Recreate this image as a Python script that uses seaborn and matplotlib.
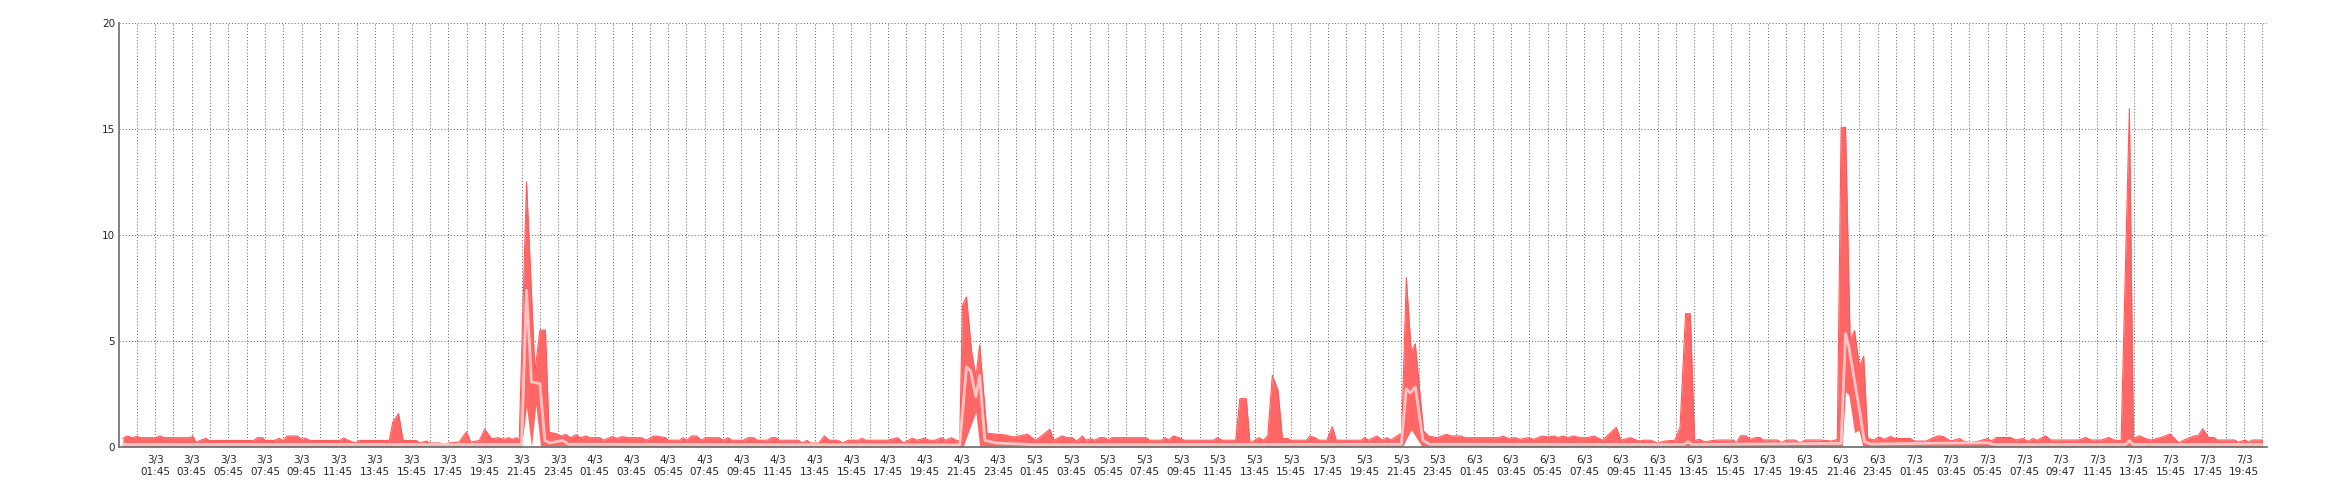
import matplotlib
matplotlib.use("Agg")
import matplotlib.pyplot as plt
import seaborn as sns

# hours since 3/3 00:00 and values
max_hours = [
    0.00, 0.24, 0.47, 0.75, 0.94, 1.78, 2.03, 2.25, 3.70, 3.81, 3.98, 4.51, 4.70, 7.14, 7.33,
    7.61, 7.76, 8.27, 8.51, 8.74, 8.96, 9.49, 9.77, 9.96, 10.19, 11.84, 12.03, 12.31, 12.69, 12.91,
    14.53, 14.72, 15.04, 15.28, 15.98, 16.22, 16.54, 16.78, 17.29, 17.54, 17.76, 18.33, 18.74, 18.98,
    19.45, 19.74, 20.11, 20.49, 20.77, 21.05, 21.24, 21.48, 21.62, 22.02, 22.48, 22.75, 23.05, 23.25,
    23.63, 23.93, 24.15, 24.43, 24.72, 25.00, 25.24, 25.47, 26.03, 26.22, 26.69, 26.97, 27.25, 27.53,
    28.29, 28.57, 28.85, 29.05, 29.62, 29.75, 30.37, 30.56, 30.75, 31.03, 31.31, 31.55, 31.78, 32.53,
    32.76, 33.00, 33.25, 33.85, 34.13, 34.41, 34.60, 35.16, 35.39, 35.63, 35.82, 36.86, 37.05, 37.33,
    37.51, 37.98, 38.27, 38.55, 39.02, 39.26, 39.58, 40.14, 40.33, 40.52, 41.74, 42.27, 42.59, 43.06,
    43.34, 43.72, 44.00, 44.33, 44.65, 44.90, 45.22, 45.45, 45.66, 45.81, 46.03, 46.30, 46.54, 46.75,
    47.15, 47.76, 48.13, 48.60, 48.88, 49.35, 49.82, 50.58, 50.80, 51.24, 51.52, 51.80, 52.04, 52.36,
    52.55, 52.83, 53.02, 53.30, 53.58, 53.77, 53.96, 55.84, 56.03, 56.69, 56.87, 57.06, 57.31, 57.63,
    57.91, 59.50, 59.73, 59.97, 60.72, 60.95, 61.30, 61.50, 61.76, 61.98, 62.23, 62.47, 62.72, 63.03,
    63.27, 63.54, 63.73, 64.58, 64.77, 65.05, 65.27, 65.70, 65.99, 66.21, 67.58, 67.77, 67.96, 68.43,
    68.71, 68.99, 69.18, 69.65, 69.78, 70.03, 70.30, 70.52, 70.97, 71.25, 71.72, 72.23, 72.47, 73.04,
    73.22, 75.10, 75.29, 75.57, 75.95, 76.23, 76.70, 76.98, 77.45, 77.74, 78.11, 78.30, 78.58, 78.86,
    79.14, 79.52, 79.90, 80.27, 80.74, 81.49, 81.74, 82.25, 82.72, 83.00, 83.38, 83.75, 84.13, 84.69,
    84.97, 85.27, 85.53, 85.76, 86.04, 86.31, 86.76, 87.12, 87.88, 88.04, 88.27, 88.55, 88.80, 89.13,
    89.32, 89.51, 90.28, 90.52, 90.75, 91.23, 91.52, 91.81, 92.67, 93.24, 93.55, 93.76, 94.00, 94.25,
    94.49, 94.76, 94.99, 95.21, 95.54, 95.82, 96.11, 96.46, 96.69, 97.55, 97.74, 98.41, 98.70, 99.08,
    99.37, 99.75, 100.23, 100.42, 100.80, 101.28, 101.76, 101.95, 102.24, 103.00, 103.29, 103.67,
    103.96, 104.25, 104.44, 104.92, 105.20, 106.73, 107.11, 107.40, 107.98, 108.36, 108.65, 109.04,
    109.49, 109.71, 110.03, 110.37, 110.66, 111.23, 111.71, 112.19, 112.47, 113.05, 113.24, 113.49,
    113.81, 114.10, 114.29, 115.24, 115.43, 115.82, 115.97, 116.20, 116.75,
]
max_vals = [
    0.42, 0.52, 0.44, 0.50, 0.44, 0.44, 0.52, 0.44, 0.44, 0.52, 0.23, 0.41, 0.31, 0.31, 0.44,
    0.44, 0.31, 0.31, 0.41, 0.31, 0.52, 0.52, 0.36, 0.42, 0.31, 0.31, 0.42, 0.31, 0.19, 0.31,
    0.31, 1.17, 1.58, 0.31, 0.31, 0.19, 0.28, 0.19, 0.19, 0.11, 0.19, 0.23, 0.71, 0.23,
    0.31, 0.84, 0.39, 0.44, 0.36, 0.44, 0.36, 0.44, 0.30, 12.50, 3.55, 5.52, 5.52, 0.70,
    0.63, 0.52, 0.60, 0.44, 0.57, 0.44, 0.52, 0.44, 0.44, 0.32, 0.49, 0.41, 0.49, 0.44,
    0.44, 0.32, 0.47, 0.52, 0.44, 0.32, 0.32, 0.44, 0.32, 0.52, 0.52, 0.32, 0.44, 0.44,
    0.32, 0.44, 0.32, 0.32, 0.44, 0.44, 0.32, 0.32, 0.44, 0.44, 0.32, 0.32, 0.19, 0.31,
    0.19, 0.19, 0.52, 0.32, 0.32, 0.19, 0.32, 0.32, 0.41, 0.32, 0.32, 0.44, 0.19, 0.41,
    0.32, 0.41, 0.32, 0.32, 0.44, 0.32, 0.44, 0.32, 0.30, 6.68, 7.08, 4.56, 3.30, 4.80,
    0.65, 0.60, 0.57, 0.47, 0.52, 0.60, 0.32, 0.84, 0.32, 0.52, 0.44, 0.44, 0.28, 0.52,
    0.32, 0.39, 0.32, 0.44, 0.44, 0.32, 0.44, 0.44, 0.32, 0.32, 0.44, 0.32, 0.52, 0.44,
    0.32, 0.32, 0.44, 0.32, 0.32, 2.28, 2.28, 0.19, 0.32, 0.44, 0.32, 0.52, 3.38, 2.67,
    0.39, 0.41, 0.32, 0.32, 0.52, 0.44, 0.32, 0.32, 0.96, 0.32, 0.32, 0.44, 0.32, 0.52,
    0.32, 0.44, 0.32, 0.60, 0.65, 7.99, 4.48, 4.87, 0.76, 0.52, 0.44, 0.60, 0.52, 0.52,
    0.44, 0.44, 0.52, 0.41, 0.44, 0.36, 0.44, 0.36, 0.52, 0.47, 0.52, 0.44, 0.52, 0.44,
    0.52, 0.44, 0.44, 0.52, 0.32, 0.93, 0.32, 0.44, 0.28, 0.32, 0.32, 0.19, 0.28, 0.32,
    0.93, 6.29, 6.29, 0.31, 0.36, 0.24, 0.31, 0.33, 0.33, 0.20, 0.53, 0.53, 0.36, 0.45,
    0.45, 0.33, 0.33, 0.20, 0.33, 0.33, 0.20, 0.33, 0.33, 0.28, 0.35, 15.08, 15.08, 5.05,
    5.49, 3.79, 4.29, 0.41, 0.33, 0.48, 0.36, 0.50, 0.40, 0.40, 0.28, 0.28, 0.41, 0.53,
    0.48, 0.28, 0.40, 0.28, 0.20, 0.28, 0.40, 0.28, 0.45, 0.45, 0.33, 0.40,
    0.28, 0.40, 0.31, 0.53, 0.33, 0.33, 0.45, 0.33, 0.33, 0.45, 0.33, 0.30,
    15.97, 0.41, 0.53, 0.40, 0.33, 0.45, 0.61, 0.20, 0.33, 0.53, 0.53, 0.86,
    0.45, 0.45, 0.33, 0.33, 0.23, 0.33, 0.23, 0.33, 0.33,
]

min_hours = [0.00, 21.75, 22.02, 22.29, 22.53, 22.79, 45.84, 46.54, 46.75, 69.81, 70.30, 70.90,
             93.82, 94.00, 94.18, 94.49, 94.73, 94.95, 116.75]
min_vals = [0.00, 0.00, 1.90, 0.00, 1.98, 0.00, 0.00, 1.65, 0.00, 0.00, 0.82, 0.00,
            0.00, 2.61, 2.45, 0.68, 0.80, 0.00, 0.00]

avg_hours = [0.00, 21.75, 22.02, 22.29, 22.75, 23.02, 23.29, 24.00, 24.30, 45.66, 46.03, 46.25,
             46.54, 46.75, 47.03, 47.66, 48.39, 49.66, 69.76, 70.03, 70.25, 70.52, 70.94, 71.30,
             85.20, 85.40, 85.60, 93.76, 94.00, 94.18, 94.76, 95.03, 95.40, 99.00, 101.76, 102.10,
             109.30, 109.49, 109.70, 116.75]
avg_vals = [0.12, 0.12, 7.39, 3.07, 2.99, 0.31, 0.19, 0.31, 0.13, 0.10, 3.77, 3.60,
            2.36, 3.38, 0.31, 0.19, 0.16, 0.11, 0.13, 2.75, 2.55, 2.83, 0.31, 0.13,
            0.12, 0.25, 0.12, 0.17, 5.36, 4.73, 1.75, 0.25, 0.14, 0.18, 0.20, 0.12,
            0.12, 0.30, 0.12, 0.12]

days = ["3/3", "4/3", "5/3", "6/3", "7/3"]
times = ["01:45", "03:45", "05:45", "07:45", "09:45", "11:45",
         "13:45", "15:45", "17:45", "19:45", "21:45", "23:45"]
labels_6 = ["01:45", "03:45", "05:45", "07:45", "09:45", "11:45",
            "13:45", "15:45", "17:45", "19:45", "21:46", "23:45"]
labels_7 = ["01:45", "03:45", "05:45", "07:45", "09:47", "11:45",
            "13:45", "15:45", "17:45", "19:45"]

tick_labels = []
for d in days:
    day_times = labels_6 if d == "6/3" else labels_7 if d == "7/3" else times
    for tm in day_times:
        tick_labels.append(d + "\n" + tm)
tick_pos = [1.75 + 2 * i for i in range(len(tick_labels))]
grid_pos = [0.75 + i for i in range(117)]

sns.set_style("white")
plt.rcParams["font.family"] = ["DejaVu Sans"]

fig = plt.figure(figsize=(23.4, 5), dpi=100)
ax = fig.add_axes([0.051, 0.106, 0.9178, 0.848])

red = "#ff6666"
ax.fill_between(max_hours, 0, max_vals, color=red, lw=0, zorder=2)
sns.lineplot(x=max_hours, y=max_vals, ax=ax, color="#ff5a5a", lw=0.8,
             estimator=None, sort=False, zorder=3)
ax.fill_between(min_hours, 0, min_vals, color="white", lw=0, zorder=4)
sns.lineplot(x=avg_hours, y=avg_vals, ax=ax, color="#ffc4c4", lw=2,
             estimator=None, sort=False, zorder=5)

ax.set_xlim(-0.2, 117.0)
ax.set_ylim(0, 20)
ax.set_yticks([0, 5, 10, 15, 20])
ax.set_xticks(tick_pos)
ax.set_xticklabels(tick_labels, fontsize=7.5, linespacing=1.15)
ax.set_xticks(grid_pos, minor=True)
ax.tick_params(axis="x", which="both", length=0, pad=6)
ax.tick_params(axis="y", length=0, pad=3, labelsize=7.5)
ax.set_xlabel("")
ax.set_ylabel("")

ax.set_axisbelow(True)
ax.grid(True, which="both", axis="x", color="#6a6a6a", lw=0.75, linestyle=(0, (1, 2)))
ax.grid(True, which="major", axis="y", color="#6a6a6a", lw=0.75, linestyle=(0, (1, 2)))

for s in ["top", "right"]:
    ax.spines[s].set_visible(False)
for s in ["left", "bottom"]:
    ax.spines[s].set_color("#777777")
    ax.spines[s].set_linewidth(1.3)
    ax.spines[s].set_zorder(6)

fig.savefig("out.png", dpi=100, facecolor="white")
